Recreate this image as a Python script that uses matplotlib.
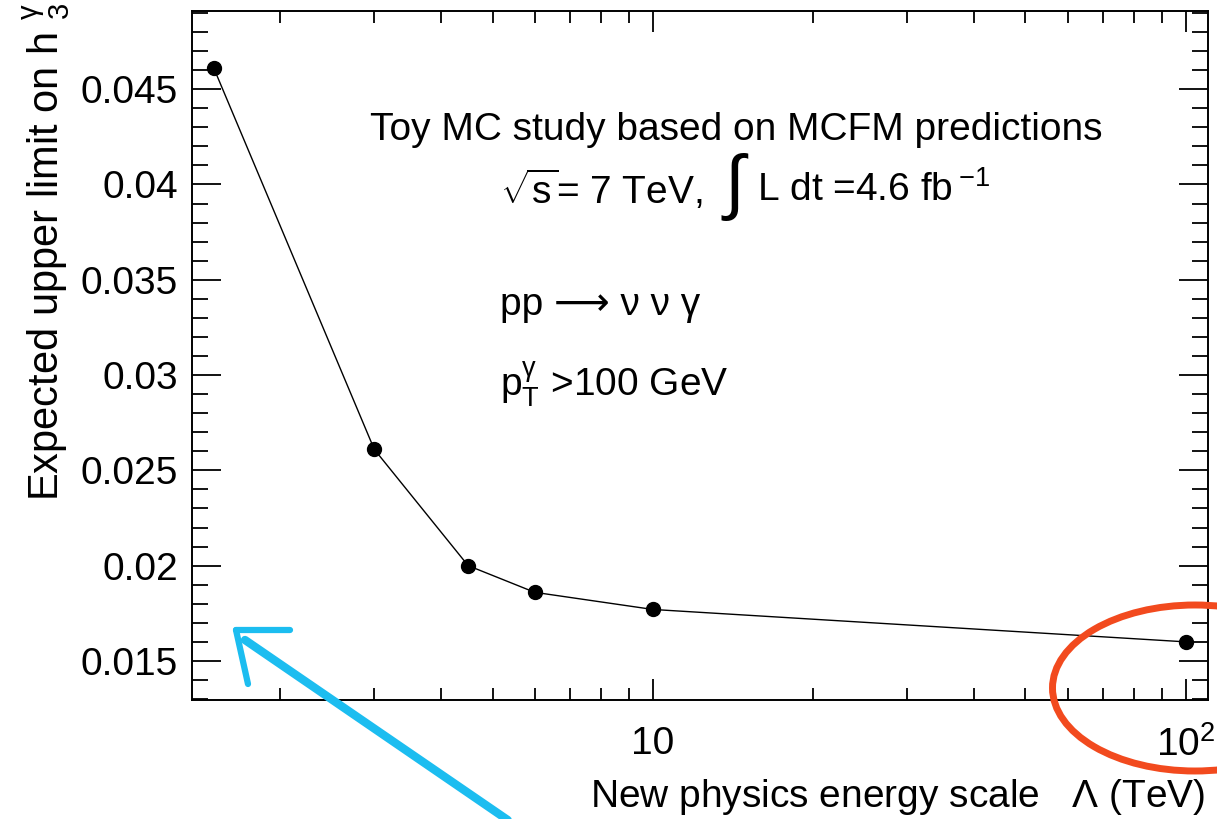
import numpy as np
import matplotlib
matplotlib.use("Agg")
import matplotlib.pyplot as plt
from matplotlib.patches import Ellipse
from matplotlib.lines import Line2D
from matplotlib.ticker import FixedLocator, FixedFormatter, LogLocator, NullFormatter, MultipleLocator

plt.rcParams['font.family'] = ['Liberation Sans', 'DejaVu Sans']
plt.rcParams['mathtext.fontset'] = 'custom'
plt.rcParams['mathtext.rm'] = 'Liberation Sans'
plt.rcParams['mathtext.it'] = 'Liberation Sans:italic'
plt.rcParams['mathtext.sf'] = 'Liberation Sans'

# data: new physics scale (TeV) vs expected limit on h3^gamma
scale_tev = [1.5, 3.0, 4.5, 6.0, 10.0, 100.0]
limit_h3 = [0.0461, 0.0261, 0.0200, 0.0186, 0.0177, 0.0160]

xtick_vals = [10, 100]
xtick_labels = ["10", r"$\mathregular{10^{2}}$"]
ytick_vals = [0.015, 0.02, 0.025, 0.03, 0.035, 0.04, 0.045]
ytick_labels = ["0.015", "0.02", "0.025", "0.03", "0.035", "0.04", "0.045"]

FS = 28
W, H = 1217, 819
fig = plt.figure(figsize=(W / 100, H / 100), dpi=100)
ax = fig.add_axes([192 / W, 1 - 700 / H, 1016 / W, 689 / H])

ax.plot(scale_tev, limit_h3, color="black", lw=1.0, marker="o", ms=10,
        mfc="black", mec="black")

ax.set_xscale("log")
ax.set_xlim(1.365, 110)
ax.set_ylim(0.01295, 0.0491)

ax.xaxis.set_major_locator(FixedLocator(xtick_vals))
ax.xaxis.set_major_formatter(FixedFormatter(xtick_labels))
ax.xaxis.set_minor_locator(LogLocator(base=10, subs=np.arange(2, 10)))
ax.xaxis.set_minor_formatter(NullFormatter())
ax.yaxis.set_major_locator(FixedLocator(ytick_vals))
ax.yaxis.set_major_formatter(FixedFormatter(ytick_labels))
ax.yaxis.set_minor_locator(MultipleLocator(0.001))

for s in ax.spines.values():
    s.set_linewidth(1.4)
ax.tick_params(axis="both", which="both", direction="in", top=True, right=True,
               width=1.3, labelsize=FS)
ax.tick_params(axis="x", which="major", length=15, pad=19)
ax.tick_params(axis="x", which="minor", length=8.5)
ax.tick_params(axis="y", which="major", length=21, pad=10)
ax.tick_params(axis="y", which="minor", length=11.5)

# axis titles, ROOT style (aligned to the ends)
fig.text(0.038, 0.997, r"Expected upper limit on h $_{\mathregular{3}}^{\mathregular{\gamma}}$",
         rotation=90, ha="center", va="top", fontsize=30)
fig.text(0.99, 0.027, r"New physics energy scale   $\mathregular{\Lambda}$ (TeV)",
         ha="right", va="center", fontsize=FS)

# labels inside the frame
tkw = dict(transform=ax.transAxes, fontsize=FS, va="center", ha="left")
ax.text(0.175, 0.827, "Toy MC study based on MCFM predictions", **tkw)
ax.text(0.303, 0.740, r"$\mathregular{\sqrt{s}}$= 7 TeV,", **tkw)
ax.text(0.521, 0.745, r"$\int$", transform=ax.transAxes, fontsize=52,
        va="center", ha="left")
ax.text(0.556, 0.740, r"L dt =4.6 fb$\,^{\mathregular{-1}}$", **tkw)
ax.text(0.303, 0.573, "pp \u27f6 \u03bd \u03bd \u03b3", **tkw)
ax.text(0.303, 0.457, r"p$_{\mathregular{T}}^{\mathregular{\gamma}}$ >100 GeV", **tkw)

# hand-drawn annotations (pixel positions on the figure)
def px(x, y):
    return x / W, 1 - y / H

blue = "#1cbdf0"
for (x0, y0), (x1, y1), lw in [((515, 825), (245, 640), 6),
                               ((236, 630), (290, 630), 4.5),
                               ((236, 630), (248, 684), 4.5)]:
    a, b = px(x0, y0)
    c, d = px(x1, y1)
    fig.add_artist(Line2D([a, c], [b, d], transform=fig.transFigure,
                          color=blue, lw=lw, solid_capstyle="round"))

cx, cy = px(1195, 688)
fig.add_artist(Ellipse((cx, cy), 285 / W, 166 / H, transform=fig.transFigure,
                       fill=False, ec="#f24a1e", lw=5))

fig.savefig("out.png", dpi=100)
